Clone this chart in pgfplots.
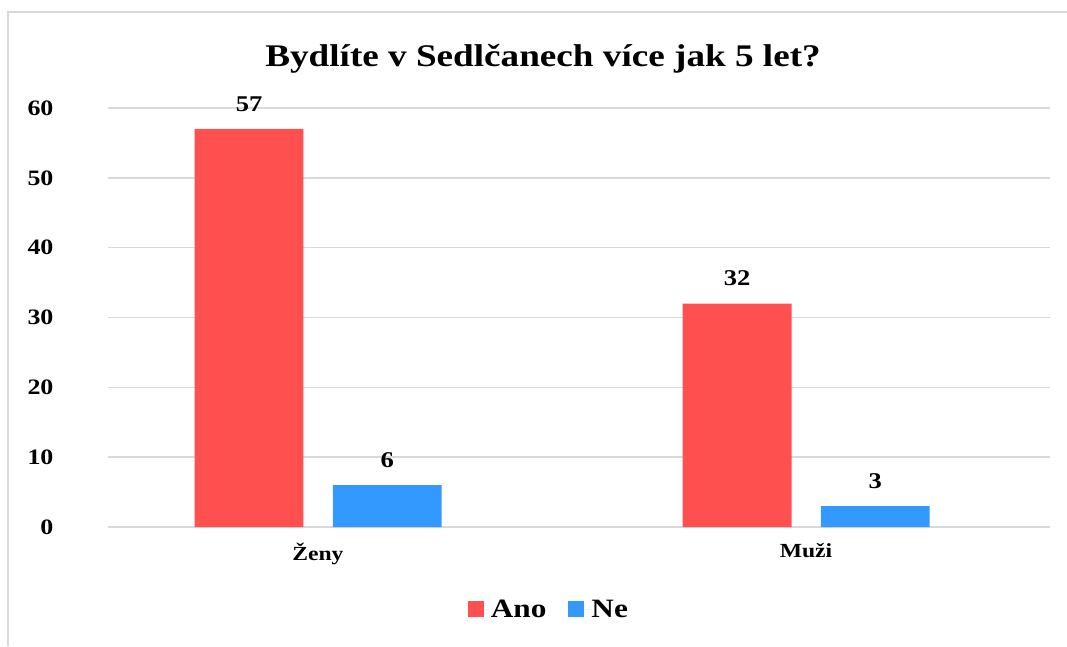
\documentclass[border=0pt]{standalone}
\usepackage{pgfplots}
\pgfplotsset{compat=1.18}
\usepackage{fontspec}
\setmainfont[FakeStretch=1.18]{Liberation Serif}
\definecolor{ano}{HTML}{FF5050}
\definecolor{ne}{HTML}{3399FF}
\definecolor{gridc}{HTML}{D9D9D9}
\begin{document}
\begin{tikzpicture}[x=1pt,y=1pt]
\path[use as bounding box] (0,0) rectangle (1067,646);
\draw[gridc, line width=2pt] (8,0) -- (8,634) -- (1067,634);
\node[font=\fontsize{31.5}{36}\selectfont\bfseries] at (543,587) {Bydlíte v Sedlčanech více jak 5 let?};
\begin{axis}[
  at={(108pt,119pt)}, anchor=south west,
  scale only axis, width=942pt, height=419pt,
  xmin=-0.430, xmax=1.5, ymin=0, ymax=60,
  ytick={0,10,...,60}, xtick={0,1}, xticklabels={Ženy,Muži},
  axis line style={draw=none}, major tick length=0pt,
  ymajorgrids, grid style={gridc, line width=1.5pt},
  /pgf/number format/assume math mode=true,
  yticklabel style={font=\fontsize{22}{26}\selectfont\bfseries, anchor=east, xshift=-51pt},
  xticklabel style={font=\fontsize{20}{24}\selectfont\bfseries, yshift=-13pt},
  ybar, bar width=0.223,
  nodes near coords,
  nodes near coords style={font=\fontsize{22.5}{26}\selectfont\bfseries, yshift=14pt},
  legend style={at={(0.468,-0.196)}, anchor=center, draw=none, legend columns=2,
    font=\fontsize{26.5}{30}\selectfont\bfseries,
    /tikz/every even column/.append style={column sep=20pt}},
  legend image code/.code={\fill[#1] (0pt,-8pt) rectangle (16pt,8pt); \path (0pt,0pt) -- (21pt,0pt);},
]
\addplot[fill=ano, draw=none, bar shift=-0.141] coordinates {(0,57) (1,32)};
\addplot[fill=ne, draw=none, bar shift=0.142] coordinates {(0,6) (1,3)};
\legend{Ano,Ne}
\end{axis}
\end{tikzpicture}
\end{document}
